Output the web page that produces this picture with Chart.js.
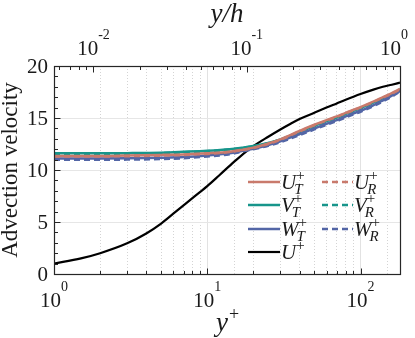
<!DOCTYPE html>
<html><head><meta charset="utf-8">
<script src="https://cdn.jsdelivr.net/npm/chart.js@4.4.1/dist/chart.umd.min.js"></script>
<style>html,body{margin:0;padding:0;background:#fff;}canvas{display:block;}</style>
</head><body>
<canvas id="c" width="415" height="338"></canvas>
<script>
// ---- data ----
const yPlusAdv = [1,2,3,5,7,10,14,17,20,25,30,40,50,60,70,80,100,120,140,160,181];
const UT = [11.35,11.35,11.4,11.45,11.5,11.6,11.75,11.95,12.15,12.55,12.95,13.75,14.35,14.8,15.15,15.5,16.05,16.55,17.0,17.4,17.8];
const VT = [11.6,11.6,11.62,11.67,11.75,11.85,12.0,12.15,12.3,12.6,12.95,13.65,14.25,14.7,15.05,15.4,15.95,16.45,16.9,17.3,17.75];
const WT = [11.1,11.1,11.12,11.18,11.25,11.4,11.6,11.85,12.05,12.4,12.75,13.45,14.0,14.45,14.8,15.15,15.7,16.2,16.7,17.15,17.6];
const UR = [11.3,11.3,11.33,11.38,11.44,11.55,11.72,11.92,12.12,12.5,12.9,13.7,14.3,14.75,15.1,15.45,16.0,16.5,16.95,17.35,17.75];
const VR = [11.55,11.55,11.57,11.62,11.7,11.8,11.97,12.12,12.27,12.57,12.9,13.6,14.2,14.65,15.0,15.35,15.9,16.4,16.85,17.25,17.7];
const WR = [10.98,10.98,11.0,11.05,11.13,11.3,11.52,11.78,12.0,12.33,12.68,13.35,13.9,14.35,14.7,15.05,15.6,16.1,16.6,17.05,17.55];
const yPlusMean = [1,1.5,2,3,4,5,6,7,8,9,10,12,15,18,20,25,30,35,40,50,60,70,80,100,120,140,160,181];
const Umean = [1.0,1.5,2.0,2.95,3.9,4.85,5.8,6.6,7.3,7.9,8.45,9.5,10.8,11.8,12.3,13.2,13.9,14.45,14.9,15.5,16.0,16.4,16.75,17.3,17.7,18.0,18.2,18.4];
const ReTau = 181;
const bottomTickExps = [0,1,2];
const topTickExps = [-2,-1,0];
const yTickLabels = [0,5,10,15,20];
const seriesNames = ['U','V','W'];

const SERIF = "'Liberation Serif','Times New Roman',serif";
const C_U = '#c97a6c', C_V = '#17958b', C_W = '#5366a6';

function pts(xs, ys){ return xs.map((x,i)=>({x:x, y:ys[i]})); }
function isPow10(v){ const l=Math.log10(v); return Math.abs(l-Math.round(l))<1e-6; }

function ds(label, xs, ys, color, dashed, w){
  return {label, data: pts(xs,ys), borderColor: color, backgroundColor: color,
    borderWidth: w||2.5, borderDash: dashed?[6,4]:[], pointRadius:0,
    cubicInterpolationMode:'monotone', fill:false};
}

function drawPow(ctx, x, baseline, exp, fs, efs, rise, maxRight){
  ctx.font = fs+'px '+SERIF;
  const w1 = ctx.measureText('10').width;
  ctx.font = efs+'px '+SERIF;
  const es = String(exp);
  const w2 = ctx.measureText(es).width;
  let start = x - (w1+w2)/2;
  if (maxRight && start+w1+w2 > maxRight) start = maxRight - (w1+w2);
  ctx.textAlign='left'; ctx.textBaseline='alphabetic';
  ctx.font = fs+'px '+SERIF; ctx.fillText('10', start, baseline);
  ctx.font = efs+'px '+SERIF; ctx.fillText(es, start+w1, baseline-rise);
}

function drawSym(ctx, x, baseline, base, sub, fs){
  ctx.textAlign='left'; ctx.textBaseline='alphabetic';
  ctx.font = 'italic '+fs+'px '+SERIF;
  ctx.fillText(base, x, baseline);
  const w = ctx.measureText(base).width;
  const sfs = Math.round(fs*0.7);
  ctx.font = sfs+'px '+SERIF;
  ctx.fillText('+', x+w, baseline-9);
  if(sub){ ctx.font = 'italic '+sfs+'px '+SERIF; ctx.fillText(sub, x+w-2, baseline+5); }
}

const decor = {
  id:'decor',
  afterDraw(chart){
    const ctx=chart.ctx, a=chart.chartArea, xs=chart.scales.x, xt=chart.scales.xTop, ys=chart.scales.y;
    ctx.save();
    const L=Math.round(a.left)+0.5, R=Math.round(a.right)+0.5, T=Math.round(a.top)+0.5, B=Math.round(a.bottom)+0.5;
    ctx.strokeStyle='#262626'; ctx.lineWidth=1;
    ctx.beginPath();
    for(let e=0;e<=2;e++) for(let k=1;k<=9;k++){
      const v=k*Math.pow(10,e); if(v>xs.max+1e-9) continue;
      const px=Math.round(xs.getPixelForValue(v))+0.5; const len=k===1?6:3.5;
      ctx.moveTo(px,B); ctx.lineTo(px,B-len);
    }
    for(let e=-3;e<=0;e++) for(let k=1;k<=9;k++){
      const v=k*Math.pow(10,e); if(v<xt.min-1e-12||v>xt.max+1e-9) continue;
      const px=Math.round(xt.getPixelForValue(v))+0.5; const len=k===1?6:3.5;
      ctx.moveTo(px,T); ctx.lineTo(px,T+len);
    }
    for(let v=0; v<=20; v++){
      const py=Math.round(ys.getPixelForValue(v))+0.5; const len=(v%5===0)?6:3.5;
      ctx.moveTo(L,py); ctx.lineTo(L+len,py);
    }
    ctx.stroke();
    ctx.lineWidth=1.2;
    ctx.strokeRect(L,T,R-L,B-T);

    ctx.fillStyle='#1a1a1a';
    bottomTickExps.forEach(e=>{ drawPow(ctx, xs.getPixelForValue(Math.pow(10,e)), 307, e, 21, 14, 16); });
    topTickExps.forEach(e=>{ drawPow(ctx, xt.getPixelForValue(Math.pow(10,e)), 55, e, 21, 14, 16, 408); });
    ctx.font='21px '+SERIF; ctx.textAlign='right'; ctx.textBaseline='middle';
    yTickLabels.forEach(v=>{ ctx.fillText(String(v), a.left-6, ys.getPixelForValue(v)+1); });
    ctx.textBaseline='alphabetic';
    ctx.font='italic 27px '+SERIF;
    const wy=ctx.measureText('y').width;
    ctx.font='18px '+SERIF; const wp=ctx.measureText('+').width;
    let sx=(a.left+a.right)/2 - (wy+wp)/2;
    ctx.textAlign='left';
    ctx.font='italic 27px '+SERIF; ctx.fillText('y', sx, 331);
    ctx.font='18px '+SERIF; ctx.fillText('+', sx+wy+1, 320);
    ctx.font='italic 27px '+SERIF; ctx.textAlign='center';
    ctx.fillText('y/h', (a.left+a.right)/2, 22);
    ctx.save();
    ctx.translate(17, (a.top+a.bottom)/2);
    ctx.rotate(-Math.PI/2);
    ctx.font='23px '+SERIF; ctx.textAlign='center'; ctx.textBaseline='alphabetic';
    ctx.fillText('Advection velocity', 0, 0);
    ctx.restore();

    const rows=[182,205,229,252];
    const cols=[[248,280],[322,353]];
    const colors=[C_U,C_V,C_W];
    ctx.lineWidth=2.5;
    for(let i=0;i<3;i++){
      for(let c=0;c<2;c++){
        ctx.strokeStyle=colors[i]; ctx.setLineDash(c===1?[6,4]:[]);
        ctx.beginPath(); ctx.moveTo(cols[c][0],rows[i]); ctx.lineTo(cols[c][1],rows[i]); ctx.stroke();
        ctx.setLineDash([]);
        ctx.fillStyle='#1a1a1a';
        drawSym(ctx, cols[c][1]+1, rows[i]+7, seriesNames[i], c===0?'T':'R', 21);
      }
    }
    ctx.strokeStyle='#000'; ctx.lineWidth=2.2;
    ctx.beginPath(); ctx.moveTo(cols[0][0],rows[3]); ctx.lineTo(cols[0][1],rows[3]); ctx.stroke();
    drawSym(ctx, cols[0][1]+1, rows[3]+7, 'U', null, 21);
    ctx.restore();
  }
};

const gridColor = ctx => (ctx.tick && isPow10(ctx.tick.value)) ? '#e2e2e2' : '#d4d4d4';
const gridDash = ctx => (ctx.tick && !isPow10(ctx.tick.value)) ? [1,2] : [];

new Chart(document.getElementById('c'), {
  type:'line',
  data:{ datasets:[
    ds('U_T', yPlusAdv, UT, C_U, false),
    ds('U_R', yPlusAdv, UR, C_U, true),
    ds('W_T', yPlusAdv, WT, C_W, false),
    ds('W_R', yPlusAdv, WR, C_W, true),
    ds('V_T', yPlusAdv, VT, C_V, false),
    ds('V_R', yPlusAdv, VR, C_V, true),
    ds('U+', yPlusMean, Umean, '#000000', false, 2.2)
  ]},
  options:{
    responsive:false, animation:false, devicePixelRatio:1,
    layout:{padding:{left:54, right:15, top:66, bottom:64}},
    plugins:{legend:{display:false}, tooltip:{enabled:false}},
    scales:{
      x:{type:'logarithmic', position:'bottom', min:1, max:ReTau,
         ticks:{display:false}, border:{display:false, dash:gridDash},
         grid:{drawTicks:false, color:gridColor, lineWidth:1}},
      xTop:{type:'logarithmic', position:'top', min:1/ReTau, max:1,
         ticks:{display:false}, border:{display:false},
         grid:{drawTicks:false, drawOnChartArea:false}},
      y:{type:'linear', min:0, max:20,
         ticks:{display:false, stepSize:5}, border:{display:false},
         grid:{drawTicks:false, color:'#e6e6e6', lineWidth:1}}
    }
  },
  plugins:[decor]
});
</script>
</body></html>
